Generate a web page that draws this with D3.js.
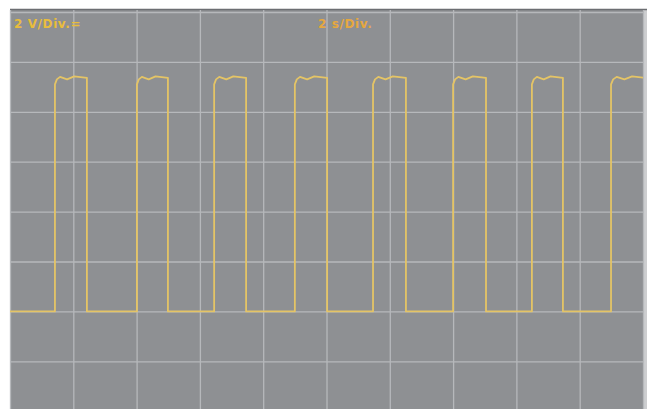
<!DOCTYPE html>
<html>
<head>
<meta charset="utf-8">
<script src="https://cdn.jsdelivr.net/npm/d3@7"></script>
<style>
  body { margin: 0; background: #ffffff; }
  svg { display: block; }
</style>
</head>
<body>
<script>
// scope settings
var voltsPerDiv = 2;
var secsPerDiv = 2;
var divsX = 10;
var divsY = 8;

// edges of the square wave (seconds)
var riseTimes = [1.42, 4.01, 6.45, 9.0, 11.47, 14.0, 16.49, 18.99];
var fallTimes = [2.43, 4.99, 7.46, 10.02, 12.51, 15.04, 17.47, 20.1];
var lowLevel = 0;
// shape of the top of each pulse (fraction of pulse width, volts)
var plateauFrac = [0, 0.06, 0.16, 0.38, 0.6, 1];
var plateauVolts = [9.1, 9.3, 9.4, 9.3, 9.42, 9.36];

var labels = ["2 V/Div.=", "2 s/Div."];

var width = 647, height = 409;
var margin = { top: 12, left: 10, right: 4 };

var svg = d3.select("body").append("svg")
    .attr("width", width)
    .attr("height", height);

var x = d3.scaleLinear()
    .domain([0, divsX * secsPerDiv])
    .range([margin.left, width - margin.right]);

var y = d3.scaleLinear()
    .domain([-2 * voltsPerDiv, (divsY - 2) * voltsPerDiv])
    .range([margin.top + divsY * 49.9, margin.top]);

// screen background
svg.append("rect")
    .attr("x", margin.left)
    .attr("y", 9)
    .attr("width", width - margin.left)
    .attr("height", height - 9)
    .attr("fill", "#cdced0");
svg.append("rect")
    .attr("x", margin.left)
    .attr("y", 9)
    .attr("width", x.range()[1] - margin.left)
    .attr("height", height - 9)
    .attr("fill", "#8e9093");
svg.append("line")
    .attr("x1", margin.left).attr("x2", width)
    .attr("y1", 9.5).attr("y2", 9.5)
    .attr("stroke", "#6c6e72")
    .attr("stroke-width", 1.5);

// grid
var xAxis = d3.axisBottom(x)
    .tickValues(d3.range(0, divsX * secsPerDiv + 0.1, secsPerDiv))
    .tickSize(height)
    .tickFormat("");
var yAxis = d3.axisLeft(y)
    .tickValues(d3.range(-2 * voltsPerDiv, (divsY - 2) * voltsPerDiv + 0.1, voltsPerDiv))
    .tickSize(-(x.range()[1] - margin.left))
    .tickFormat("");

var gx = svg.append("g").attr("transform", "translate(0,10)").call(xAxis);
var gy = svg.append("g").attr("transform", "translate(" + margin.left + ",0)").call(yAxis);
[gx, gy].forEach(function(g) {
    g.select(".domain").remove();
    g.selectAll(".tick line")
        .attr("stroke", "#b6b8bb")
        .attr("stroke-width", 1.3);
});

// build the trace
var points = [[0, lowLevel]];
riseTimes.forEach(function(r, i) {
    var f = fallTimes[i];
    points.push([r, lowLevel]);
    plateauFrac.forEach(function(p, j) {
        points.push([r + p * (f - r), plateauVolts[j]]);
    });
    points.push([f, lowLevel]);
});

svg.append("clipPath").attr("id", "screen")
    .append("rect")
    .attr("x", margin.left)
    .attr("y", 10)
    .attr("width", x.range()[1] - margin.left)
    .attr("height", height);

var line = d3.line()
    .x(function(d) { return x(d[0]); })
    .y(function(d) { return y(d[1]); });

svg.append("path")
    .datum(points)
    .attr("clip-path", "url(#screen)")
    .attr("d", line)
    .attr("fill", "none")
    .attr("stroke", "#e4c466")
    .attr("stroke-width", 1.8)
    .attr("stroke-linejoin", "round");

// labels
svg.append("text")
    .attr("x", 14).attr("y", 28)
    .text(labels[0])
    .style("font-family", "DejaVu Sans")
    .style("font-weight", "bold")
    .style("font-size", "12px")
    .style("letter-spacing", "0.6px")
    .style("fill", "#e9bd3c");
svg.append("text")
    .attr("x", 318).attr("y", 28)
    .text(labels[1])
    .style("font-family", "DejaVu Sans")
    .style("font-weight", "bold")
    .style("font-size", "12px")
    .style("letter-spacing", "0.6px")
    .style("fill", "#e6a83e");
</script>
</body>
</html>
